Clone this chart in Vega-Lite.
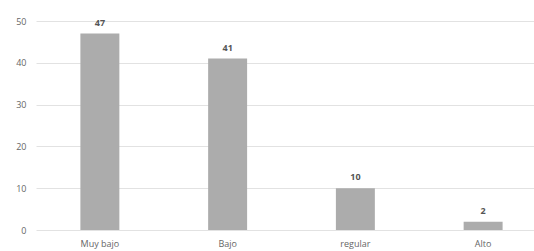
{
  "$schema": "https://vega.github.io/schema/vega-lite/v6.json",
  "autosize": {"type": "none"},
  "padding": {"left": 36, "top": 21, "right": 0, "bottom": 21},
  "width": 511,
  "height": 209,
  "background": "#ffffff",
  "config": {
    "view": {"stroke": null},
    "font": "Open Sans"
  },
  "data": {
    "values": [
      {"nivel": "Muy bajo", "valor": 47},
      {"nivel": "Bajo", "valor": 41},
      {"nivel": "regular", "valor": 10},
      {"nivel": "Alto", "valor": 2}
    ]
  },
  "encoding": {
    "x": {
      "field": "nivel",
      "type": "nominal",
      "sort": null,
      "scale": {"paddingInner": 0.695, "paddingOuter": 0.3475},
      "axis": {
        "title": null,
        "labelAngle": 0,
        "domain": false,
        "ticks": false,
        "labelPadding": 9,
        "labelFontSize": 9,
        "labelColor": "#666666"
      }
    },
    "y": {
      "field": "valor",
      "type": "quantitative",
      "scale": {"domain": [0, 50]},
      "axis": {
        "title": null,
        "values": [0, 10, 20, 30, 40, 50],
        "domain": false,
        "ticks": false,
        "labelPadding": 10,
        "labelFontSize": 9,
        "labelColor": "#666666",
        "gridColor": "#e2e2e2",
        "gridWidth": 1
      }
    }
  },
  "layer": [
    {"mark": {"type": "bar", "color": "#acacac"}},
    {
      "mark": {"type": "text", "baseline": "bottom", "dy": -6, "fontSize": 9, "fontWeight": "bold", "color": "#555555"},
      "encoding": {"text": {"field": "valor", "type": "quantitative"}}
    }
  ]
}
